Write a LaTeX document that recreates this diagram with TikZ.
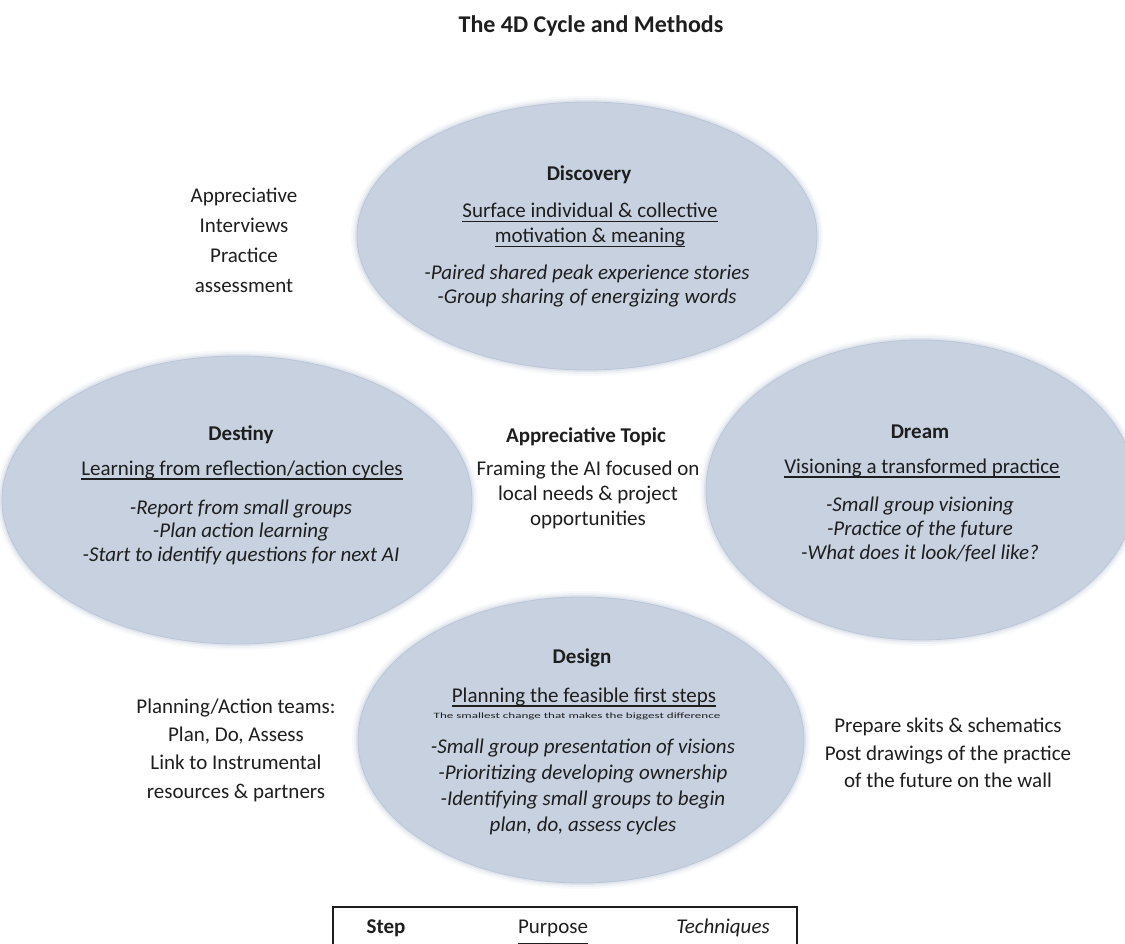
\documentclass[tikz,border=0pt]{standalone}
\usepackage{fontspec}
\setmainfont{Carlito}
\definecolor{ellfill}{RGB}{199,209,224}
\definecolor{ellrim}{RGB}{188,198,214}
\definecolor{ink}{RGB}{30,30,30}
% underline with a heavier rule
\newsavebox{\ulbox}
\newcommand{\ulbar}[1]{\leavevmode\sbox{\ulbox}{#1}\rlap{\rule[-4.5pt]{\wd\ulbox}{1.3pt}}\usebox{\ulbox}}
% an ellipse with a softly fading rim
\newcommand{\phaseellipse}[3]{%
  \foreach \g/\o in {6/0.12,4/0.2,2/0.35}{%
    \fill[ellfill, opacity=\o] #1 ellipse [x radius=#2+\g, y radius=#3+\g];}
  \fill[phase] #1 ellipse [x radius=#2, y radius=#3];}
\tikzset{
  phase/.style={fill=ellfill, draw=ellrim, line width=0.8pt},
  stepname/.style={font=\fontsize{21}{25}\selectfont\bfseries, text=ink, inner sep=0pt},
  purpose/.style={font=\fontsize{21}{25}\selectfont, text=ink, align=center, inner sep=0pt},
  technique/.style={font=\fontsize{21}{24.5}\selectfont\itshape, text=ink, align=center, inner sep=0pt},
  method/.style={font=\fontsize{21}{29}\selectfont, text=ink, align=center, inner sep=0pt},
}
\begin{document}
\begin{tikzpicture}[x=1pt,y=-1pt]
\useasboundingbox (0,0) rectangle (1125,944);
\clip (0,0) rectangle (1125,944);
\fill[white] (0,0) rectangle (1125,944);

% title
\node[font=\fontsize{24}{28}\selectfont\bfseries, text=ink, inner sep=0pt] (title) at (591,26) {The 4D Cycle and Methods};

% the four phase ellipses
\phaseellipse{(587,236)}{230}{134}
\phaseellipse{(237,500)}{235}{144}
\phaseellipse{(921,490)}{215}{150}
\phaseellipse{(581,740)}{223}{143}

% Discovery
\node[stepname] (disc) at (589,175) {Discovery};
\node[purpose] (discP) at (590,225) {\ulbar{Surface individual \& collective}\\\ulbar{motivation \& meaning}};
\node[technique] (discT) at (587,286) {-Paired shared peak experience stories\\-Group sharing of energizing words};

% Destiny
\node[stepname] (dest) at (241,435) {Destiny};
\node[purpose] (destP) at (242,470) {\ulbar{Learning from reflection/action cycles}};
\node[technique, font=\fontsize{21}{23.5}\selectfont\itshape] (destT) at (241,532) {-Report from small groups\\-Plan action learning\\-Start to identify questions for next AI};

% Dream
\node[stepname] (dream) at (920,432) {Dream};
\node[purpose] (dreamP) at (922,468) {\ulbar{Visioning a transformed practice}};
\node[technique, font=\fontsize{21}{24}\selectfont\itshape] (dreamT) at (920,529) {-Small group visioning\\-Practice of the future\\-What does it look/feel like?};

% Design
\node[stepname] (design) at (582,658) {Design};
\node[purpose] (designP) at (584,697) {\ulbar{Planning the feasible first steps}};
\node[font=\fontsize{9}{10}\selectfont, text=ink, inner sep=0pt] (designS) at (577,716) {\scalebox{1.45}[0.9]{The smallest change that makes the biggest difference}};
\node[technique, font=\fontsize{21}{26}\selectfont\itshape] (designT) at (583,787) {-Small group presentation of visions\\-Prioritizing developing ownership\\-Identifying small groups to begin\\plan, do, assess cycles};

% centre topic
\node[stepname] (topic) at (586,437) {Appreciative Topic};
\node[purpose] (topicT) at (588,495) {Framing the AI focused on\\local needs \& project\\opportunities};

% methods beside the cycle
\node[method, font=\fontsize{21}{30}\selectfont] (methDisc) at (244,240) {Appreciative\\Interviews\\Practice\\assessment};
\node[method, font=\fontsize{21}{28.3}\selectfont] (methDest) at (236,750) {Planning/Action teams:\\Plan, Do, Assess\\Link to Instrumental\\resources \& partners};
\node[method, font=\fontsize{21}{27.5}\selectfont] (methDream) at (948,753) {Prepare skits \& schematics\\Post drawings of the practice\\of the future on the wall};

% legend
\draw[line width=1.6pt, draw=ink] (333,907) rectangle (797,990);
\node[stepname] (lgStep) at (386,928) {Step};
\node[purpose] (lgPurpose) at (553,928) {Purpose};
\node[technique] (lgTech) at (723,928) {Techniques};
\draw[line width=2.5pt, draw=ink] (518,944) -- (588,944);
\end{tikzpicture}
\end{document}
